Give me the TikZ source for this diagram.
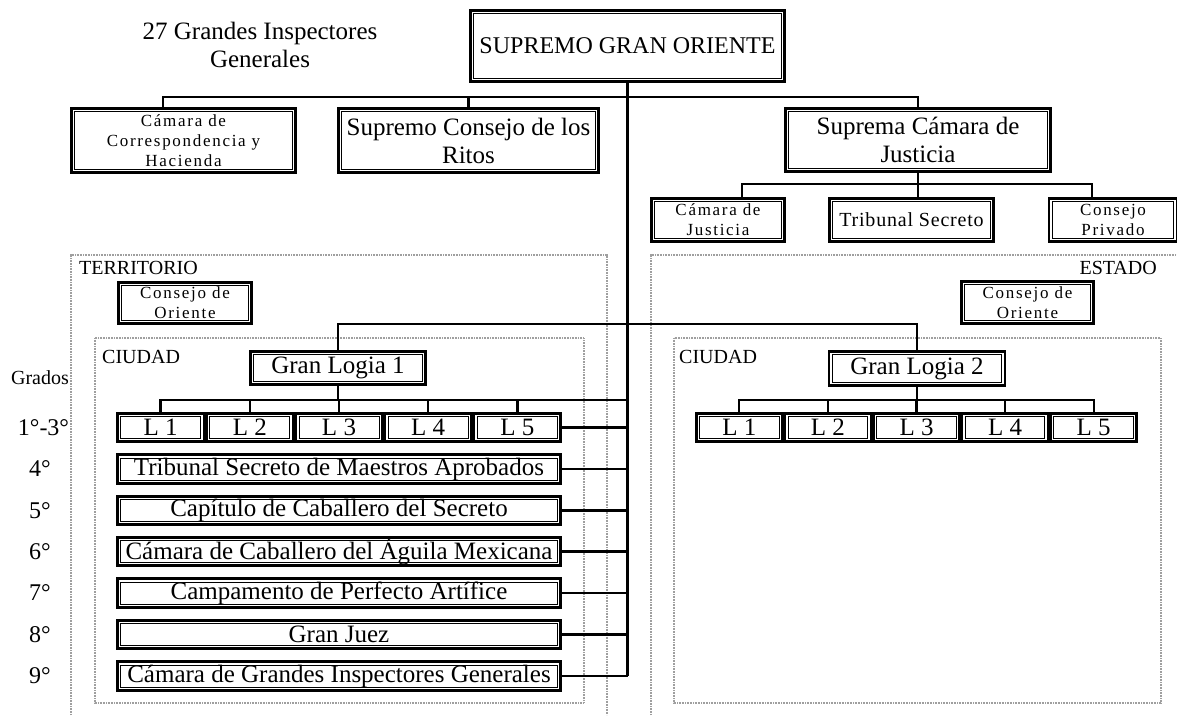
\documentclass[tikz,border=0pt]{standalone}
\usepackage{fontspec}
\setmainfont{Liberation Serif}

\tikzset{
  orgbox/.style={draw, line width=2.6pt, inner sep=0pt, align=center,
    append after command={\pgfextra{\draw[line width=0.9pt]
      ([shift={(4.5pt,-4.5pt)}]\tikzlastnode.north west) rectangle
      ([shift={(-4.5pt,4.5pt)}]\tikzlastnode.south east);}}},
  bigtext/.style={font=\fontsize{25}{28}\selectfont},
  smalltext/.style={font=\fontsize{17}{20}\selectfont\addfontfeature{LetterSpace=10}},
  tagtext/.style={inner sep=0pt, font=\fontsize{20}{24}\selectfont},
  link/.style={line width=2.3pt},
  zone/.style={draw=gray!75, line width=1.8pt, dash pattern=on 1pt off 0.6pt},
}

\begin{document}
\begin{tikzpicture}[x=1pt, y=-1pt]
  \useasboundingbox (0,0) rectangle (1177,715);

  % territorio, estado, ciudades
  \draw[zone] (71,715) |- (607,255) -- (607,715);
  \draw[zone] (651,715) |- (1177,255);
  \draw[zone] (95,338) rectangle (584,703);
  \draw[zone] (674,338) rectangle (1161,703);
  \node[tagtext, anchor=west] (terr) at (79,268) {TERRITORIO};
  \node[tagtext, anchor=east] (est) at (1157,268) {ESTADO};
  \node[tagtext, anchor=west] (ciu1) at (102,357) {CIUDAD};
  \node[tagtext, anchor=west] (ciu2) at (679,357) {CIUDAD};

  \node[bigtext, align=center, inner sep=0pt] (insp) at (260,45) {27 Grandes Inspectores\\Generales};

  % cabeza
  \node[orgbox, font=\fontsize{24}{28}\selectfont, minimum width=314, minimum height=71] (root) at (627.5,46) {SUPREMO GRAN ORIENTE};
  \node[orgbox, smalltext, minimum width=224, minimum height=64] (cch) at (183.5,140.5) {Cámara de\\Correspondencia y\\Hacienda};
  \node[orgbox, bigtext, minimum width=260, minimum height=64] (scr) at (468.5,140.5) {Supremo Consejo de los\\Ritos};
  \node[orgbox, bigtext, minimum width=265, minimum height=63] (scj) at (918,140) {Suprema Cámara de\\Justicia};
  \node[orgbox, smalltext, minimum width=133, minimum height=43] (cj) at (718,220) {Cámara de\\Justicia};
  \node[orgbox, font=\fontsize{20}{24}\selectfont\addfontfeature{LetterSpace=4}, minimum width=164, minimum height=43] (ts) at (911.5,220) {Tribunal Secreto};
  \node[orgbox, smalltext, minimum width=128, minimum height=43] (cp) at (1113,220) {Consejo\\Privado};

  \coordinate (bl) at (163,97);
  \draw[link] (cch.north -| bl) -- (bl) -- (bl -| scj.north) -- (scj.north);
  \draw[link] (scr.north) -- (scr.north |- bl);
  \coordinate (sbl) at (742,184);
  \coordinate (sbr) at (1092,184);
  \draw[link] (cj.north -| sbl) -- (sbl) -- (sbr) -- (cp.north -| sbr);
  \draw[link] (scj.south) -- (scj.south |- ts.north);

  % consejos de oriente
  \node[orgbox, smalltext, minimum width=133, minimum height=41] (co1) at (185,303) {Consejo de\\Oriente};
  \node[orgbox, smalltext, minimum width=132, minimum height=42] (co2) at (1027.5,302.5) {Consejo de\\Oriente};

  % grandes logias
  \node[orgbox, bigtext, minimum width=175, minimum height=33] (gl1) at (338,368) {Gran Logia 1};
  \node[orgbox, bigtext, minimum width=176, minimum height=34] (gl2) at (917,368.5) {Gran Logia 2};
  \coordinate (lodge) at (627,324);
  \draw[link] (gl1.north) -- (gl1.north |- lodge) -- (gl2.north |- lodge) -- (gl2.north);

  \foreach \i in {1,...,5} {
      \node[orgbox, bigtext, minimum width=86.5, minimum height=28.5] (la\i) at ({116+89.2*(\i-0.5)},427.5) {L \i};
      \node[orgbox, bigtext, minimum width=86, minimum height=28.5] (lb\i) at ({695+88.6*(\i-0.5)},427.5) {L \i};
  }
  \coordinate (bar1) at (627,400);
  \coordinate (bar2) at (917,400);
  \draw[link] (la1.north) |- (bar1);
  \draw[link] (lb1.north) |- (bar2) -| (lb5.north);
  \foreach \i in {2,...,5} \draw[link] (la\i.north) -- (la\i.north |- bar1);
  \foreach \i in {2,...,4} \draw[link] (lb\i.north) -- (lb\i.north |- bar2);
  \draw[link] (gl1.south) -- (gl1.south |- bar1);
  \draw[link] (gl2.south) -- (gl2.south |- bar2);
  \draw[link] (la5.east) -- (la5.east -| bar1);

  % grados
  \node[tagtext] (grados) at (40,378) {Grados};
  \node[font=\fontsize{24}{28}\selectfont, inner sep=0pt] (d1) at (43.5,428) {1°-3°};
  \foreach \n/\y/\t in {4/469/Tribunal Secreto de Maestros Aprobados,
                        5/510.5/Capítulo de Caballero del Secreto,
                        6/551.5/Cámara de Caballero del Águila Mexicana,
                        7/593/Campamento de Perfecto Artífice,
                        8/634.5/Gran Juez,
                        9/676/Cámara de Grandes Inspectores Generales} {
      \node[orgbox, bigtext, minimum width=443, minimum height=28.5] (g\n) at (339,\y) {\t};
      \node[font=\fontsize{24}{28}\selectfont, inner sep=0pt] (d\n) at (40,\y) {\n°};
      \draw[link] (g\n.east) -- (g\n.east -| root.south);
  }

  \draw[link] (root.south) -- (root.south |- g9.east);
\end{tikzpicture}
\end{document}
